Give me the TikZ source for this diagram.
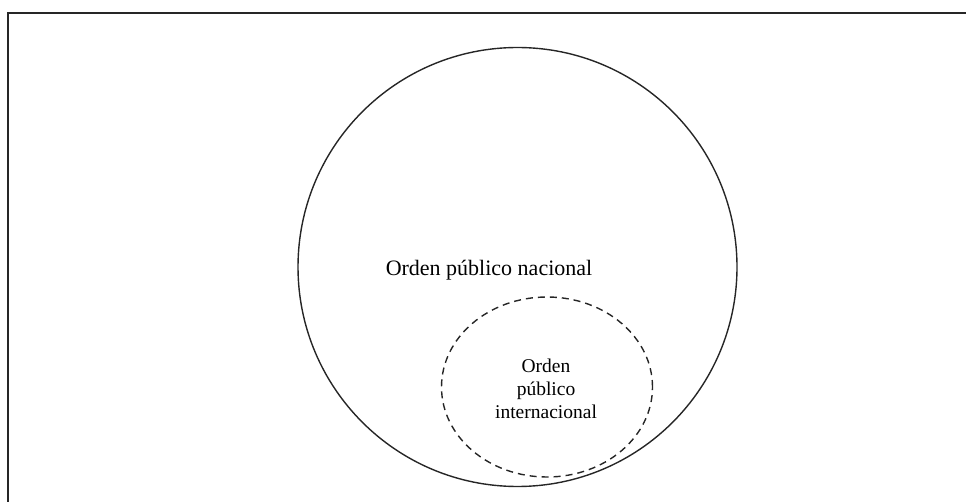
\documentclass[tikz,border=0pt]{standalone}
\usepackage{fontspec}
\setmainfont{Liberation Serif}
\usetikzlibrary{shapes.geometric}
\begin{document}
\begin{tikzpicture}[x=1pt,y=-1pt,
  frameline/.style={line width=2pt,draw=black!85},
  outercirc/.style={line width=1.4pt,draw=black!85},
  innercirc/.style={line width=1.4pt,draw=black!85,dash pattern=on 7pt off 5pt},
  bigtext/.style={font=\fontsize{22}{26}\selectfont,inner sep=0pt},
  smalltext/.style={font=\fontsize{19.5}{23}\selectfont,align=center,inner sep=0pt}]
\useasboundingbox (0,0) rectangle (966,502);
\coordinate (tl) at (8,12.7);
\coordinate (tr) at (970,12.7);
\coordinate (bl) at (8,506);
\draw[frameline] (bl) -- (tl) -- (tr);
\node[outercirc,circle,minimum size=439pt,inner sep=0pt] (outer) at (517.5,267) {};
\node[innercirc,ellipse,minimum width=211pt,minimum height=180pt,inner sep=0pt] (inner) at (547,387) {};
\node[bigtext] (nat) at (489,270) {Orden público nacional};
\node[smalltext] (intl) at (546,389) {Orden\\público\\internacional};
\end{tikzpicture}
\end{document}
